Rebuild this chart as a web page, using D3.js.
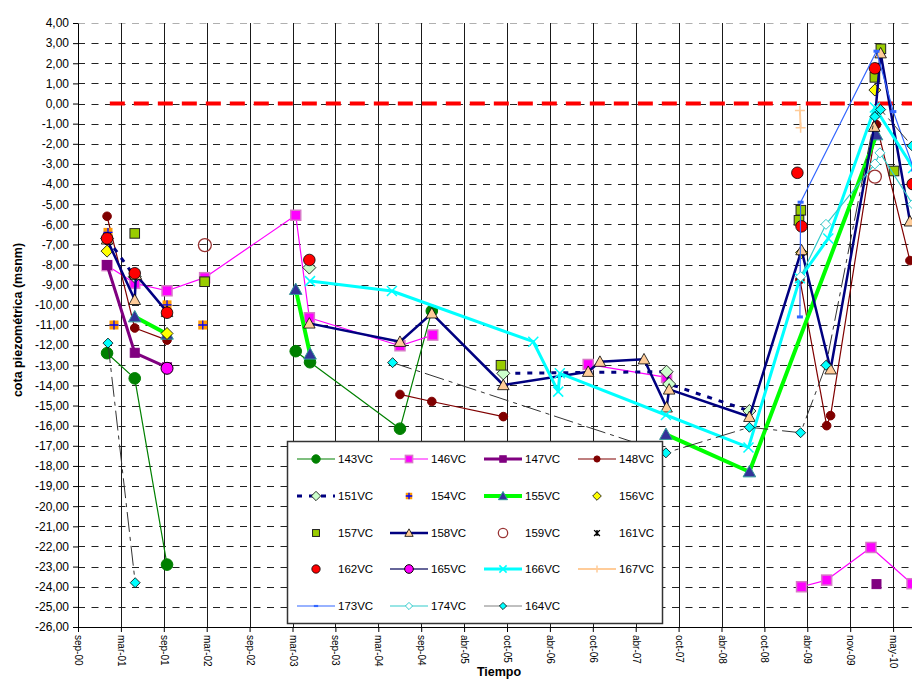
<!DOCTYPE html>
<html>
<head>
<meta charset="utf-8">
<script src="https://cdn.jsdelivr.net/npm/d3@7"></script>
<style>
  body { margin: 0; background: #fff; }
  svg { display: block; font-family: "Liberation Sans", Arial, sans-serif; }
</style>
</head>
<body>
<svg id="chart" width="912" height="680"></svg>
<script>
// ---- Axis definitions ----
const axisStartDate = "2000-09-01";
const majorUnitDays = 186;
const tickLabels = ["sep-00","mar-01","sep-01","mar-02","sep-02","mar-03","sep-03","mar-04","sep-04",
  "abr-05","oct-05","abr-06","oct-06","abr-07","oct-07","abr-08","oct-08","abr-09","nov-09","may-10"];
const yMin = -26, yMax = 4;

// ---- Piezometric levels per well: [date, cota (msnm)], null breaks the line ----
const s143 = [["2001-01-05",-12.4],["2001-05-05",-13.65],["2001-09-22",-22.9],null,
  ["2003-04-03",-12.3],["2003-06-04",-12.85],["2004-06-28",-16.15],["2004-11-13",-10.3]];
const s146 = [["2001-01-05",-8.05],["2001-05-05",-8.93],["2001-09-22",-9.3],["2002-03-04",-8.65],
  ["2003-04-03",-5.55],["2003-06-01",-10.64],["2004-06-28",-12.03],["2004-11-17",-11.5],null,
  ["2006-09-22",-12.96],["2007-08-28",-13.6],null,
  ["2009-04-04",-24.0],["2009-07-22",-23.67],["2010-01-30",-22.05],["2010-07-27",-23.85]];
const s147 = [["2001-01-05",-8.02],["2001-05-05",-12.38],["2001-09-22",-13.1],null,["2010-02-23",-23.87]];
const s148 = [["2001-01-05",-5.6],["2001-05-05",-11.15],["2001-09-22",-11.75],null,
  ["2004-06-28",-14.45],["2004-11-13",-14.8],["2005-09-19",-15.55],null,
  ["2009-03-28",-8.75],["2009-07-22",-16.0],["2009-08-08",-15.5],["2010-02-23",-1.05],["2010-07-18",-7.8]];
const s151 = [["2001-01-05",-6.7],["2001-05-05",-8.6],null,["2003-06-01",-8.15],null,
  ["2005-09-19",-13.4],["2007-08-28",-13.32],["2007-09-08",-13.93],["2008-08-21",-15.27]];
const s154 = [["2001-01-09",-6.4],["2001-02-04",-11.0],["2001-09-22",-10.0],["2002-02-24",-11.0]];
const s155 = [["2001-05-05",-10.59],["2001-09-22",-11.45],null,["2003-04-03",-9.23],["2003-06-04",-12.44],null,
  ["2007-08-25",-16.43],["2008-08-21",-18.29],["2010-02-23",-1.55]];
const s156 = [["2001-01-05",-7.33],["2001-09-22",-11.42],["2009-04-04",-7.4],["2010-02-16",0.67]];
const s157 = [["2001-05-05",-6.45],["2002-03-04",-8.85],["2005-09-09",-13.0],["2009-03-24",-5.8],
  ["2009-04-01",-5.3],["2010-02-16",1.3],["2010-03-14",2.72],["2010-05-10",-3.35]];
const s158 = [["2001-01-05",-6.75],["2001-05-05",-9.75],["2001-05-10",-8.5],["2001-09-22",-10.35],null,
  ["2003-06-01",-10.92],["2004-06-28",-11.83],["2004-11-13",-10.42],["2005-09-19",-13.98],
  ["2006-09-22",-13.32],["2006-11-12",-12.82],["2007-05-22",-12.7],["2007-08-28",-15.09],
  ["2007-09-08",-14.2],["2008-08-21",-15.56],["2009-04-04",-7.28],["2009-08-08",-13.2],
  ["2010-02-13",-1.15],["2010-03-13",2.5],["2010-07-18",-5.85]];
const s159 = [["2002-03-05",-7.03],["2010-02-16",-3.63]];
const s161 = [["2001-01-05",-6.65],["2001-04-27",-8.45]];
const s162 = [["2001-01-05",-6.7],["2001-05-05",-8.43],["2001-09-22",-10.39],["2003-06-01",-7.77],
  ["2009-03-17",-3.44],["2009-04-04",-6.1],["2010-02-16",1.75],["2010-07-30",-4.0]];
const s165 = [["2001-09-22",-13.15]];
const s166 = [["2003-06-04",-8.82],["2004-05-24",-9.31],["2006-01-27",-11.83],["2006-05-15",-14.31],
  ["2006-05-22",-13.4],["2007-08-25",-15.47],["2008-08-17",-17.08],["2009-03-28",-8.68],
  ["2009-07-29",-6.7],["2010-02-16",-0.2],["2010-08-01",-3.2]];
const s167 = [["2009-03-28",-0.35],["2009-03-31",-1.2]];
const s173 = [["2009-03-28",-10.6],["2009-03-31",-4.9],["2010-02-23",2.6],["2010-05-07",-0.4],["2010-08-05",-3.3]];
const s174 = [["2009-03-31",-8.6],["2009-07-19",-6.0],["2010-02-16",-3.0],["2010-03-10",-2.45],["2010-07-30",-5.0]];
const s164 = [["2001-01-09",-11.9],["2001-05-07",-23.8],null,["2004-05-27",-12.87],["2007-08-25",-17.35],
  ["2008-08-21",-16.08],["2009-03-31",-16.35],["2009-07-19",-13.0],["2010-02-16",-0.65],
  ["2010-03-13",-0.3],["2010-07-27",-2.1]];
// sea level reference
const seaLevel = [["2001-01-17",0],["2010-11-09",0]];

// ---- Series styling ----
const series = [
  {name:"143VC", data:s143, line:{c:"#008000", w:1.2}, m:{shape:"circle", s:5.8, fill:"#008000", stroke:"#008000", sw:1}},
  {name:"146VC", data:s146, line:{c:"#FF00FF", w:1.2}, m:{shape:"square", s:5, fill:"#FF00FF", stroke:"#D878C8", sw:1.5}},
  {name:"147VC", data:s147, line:{c:"#800080", w:3}, m:{shape:"square", s:4.5, fill:"#800080", stroke:"#800080", sw:1}},
  {name:"148VC", data:s148, line:{c:"#800000", w:1.2}, m:{shape:"circle", s:4.3, fill:"#800000", stroke:"#800000", sw:1}},
  {name:"151VC", data:s151, line:{c:"#000080", w:3, dash:"5,7"}, m:{shape:"diamond", s:6.5, fill:"#CCFFCC", stroke:"#000", sw:0.8}},
  {name:"154VC", data:s154, line:null, m:{shape:"sqplus", s:4.5, fill:"#FF9900", stroke:"#0000FF", sw:1.3}},
  {name:"155VC", data:s155, line:{c:"#00FF00", w:4}, m:{shape:"triangle", s:6, fill:"#333399", stroke:"#339999", sw:1}},
  {name:"156VC", data:s156, line:null, m:{shape:"diamond", s:6, fill:"#FFFF00", stroke:"#000", sw:0.8}},
  {name:"157VC", data:s157, line:null, m:{shape:"square", s:4.8, fill:"#99CC00", stroke:"#222", sw:1}},
  {name:"158VC", data:s158, line:{c:"#000080", w:2.5}, m:{shape:"triangle", s:5.5, fill:"#FFCC99", stroke:"#000", sw:0.8}},
  {name:"159VC", data:s159, line:null, m:{shape:"circle", s:6.5, fill:"none", stroke:"#993333", sw:1.3}},
  {name:"161VC", data:s161, line:null, m:{shape:"asterisk", s:4, fill:"none", stroke:"#000", sw:1.4}},
  {name:"162VC", data:s162, line:null, m:{shape:"circle", s:5.8, fill:"#FF0000", stroke:"#000", sw:0.8}},
  {name:"165VC", data:s165, line:{c:"#666699", w:2}, m:{shape:"circle", s:6, fill:"#FF00FF", stroke:"#000", sw:1}},
  {name:"166VC", data:s166, line:{c:"#00FFFF", w:3}, m:{shape:"cross", s:5, fill:"none", stroke:"#00FFFF", sw:1.5}},
  {name:"167VC", data:s167, line:{c:"#FFCC99", w:2}, m:{shape:"plus", s:5, fill:"none", stroke:"#FFCC99", sw:1.5}},
  {name:"173VC", data:s173, line:{c:"#3366FF", w:1.2}, m:{shape:"dash", s:3, fill:"#3366FF", stroke:"#3366FF", sw:0}},
  {name:"174VC", data:s174, line:{c:"#33CCCC", w:1.2}, m:{shape:"diamond", s:5, fill:"#fff", stroke:"#33CCCC", sw:1}},
  {name:"164VC", data:s164, line:{c:"#333333", w:1, dash:"20,5,4,5", legendColor:"#808080", legendDash:null}, m:{shape:"diamond", s:5, fill:"#00FFFF", stroke:"#000", sw:0.8}}
];

// ---- Scales ----
const svg = d3.select("#chart");
const parse = d3.utcParse("%Y-%m-%d");
const start = parse(axisStartDate);
const tickDates = tickLabels.map((_, i) => d3.utcDay.offset(start, majorUnitDays * i));
const end = d3.utcDay.offset(start, majorUnitDays * 20);
const plotL = 78, plotR = 936, plotT = 23, plotB = 627;
const x = d3.scaleUtc().domain([start, end]).range([plotL, plotR]);
const y = d3.scaleLinear().domain([yMin, yMax]).range([plotB, plotT]);
const yTicks = d3.range(yMin, yMax + 0.001, 1);
const crisp = v => Math.round(v) + 0.5;

svg.append("defs").append("clipPath").attr("id", "plotClip")
  .append("rect").attr("x", plotL).attr("y", 0).attr("width", plotR - plotL).attr("height", plotB);

// ---- Grid ----
const grid = svg.append("g");
grid.selectAll("line.h").data(yTicks.filter(v => v > yMin)).join("line")
  .attr("x1", plotL).attr("x2", plotR)
  .attr("y1", d => crisp(y(d))).attr("y2", d => crisp(y(d)))
  .attr("stroke", d => d === yMax ? "#b0b0b0" : "#222")
  .attr("stroke-width", 1).attr("stroke-dasharray", "7,6.5");
grid.selectAll("line.v").data(tickDates.slice(1)).join("line")
  .attr("x1", d => crisp(x(d))).attr("x2", d => crisp(x(d)))
  .attr("y1", plotT).attr("y2", plotB)
  .attr("stroke", "#1a1a1a").attr("stroke-width", 1);

// ---- Axes ----
const fmtY = v => (v < 0 ? "-" : "") + Math.abs(v).toFixed(2).replace(".", ",");
const yAxis = svg.append("g").attr("transform", `translate(${plotL},0)`)
  .call(d3.axisLeft(y).tickValues(yTicks).tickFormat(fmtY).tickSize(5).tickSizeOuter(0).tickPadding(4));
yAxis.selectAll("text").attr("font-size", 12).attr("fill", "#000").attr("font-family", "Liberation Sans, Arial, sans-serif");
yAxis.select(".domain").attr("stroke", "#000");
yAxis.selectAll(".tick line").attr("stroke", "#000");

const xAxis = svg.append("g").attr("transform", `translate(0,${plotB})`)
  .call(d3.axisBottom(x).tickValues(tickDates).tickFormat((d, i) => tickLabels[i]).tickSize(5).tickSizeOuter(0));
xAxis.select(".domain").attr("stroke", "#000");
xAxis.selectAll(".tick line").attr("stroke", "#000");
xAxis.selectAll("text")
  .attr("transform", "rotate(90)").attr("x", 8).attr("y", 0).attr("dy", "0.35em")
  .style("text-anchor", "start").attr("font-size", 10).attr("fill", "#000")
  .attr("font-family", "Liberation Sans, Arial, sans-serif");

svg.append("text").attr("transform", "translate(22,320) rotate(-90)")
  .attr("text-anchor", "middle").attr("font-size", 12.5).attr("font-weight", "bold")
  .text("cota piezométrica (msnm)");
svg.append("text").attr("x", 499).attr("y", 676)
  .attr("text-anchor", "middle").attr("font-size", 12.5).attr("font-weight", "bold")
  .text("Tiempo");

// ---- Marker drawing ----
function drawMarker(g, m, cx, cy, k) {
  const s = m.s * k;
  const sw = m.sw;
  switch (m.shape) {
    case "circle":
      g.append("circle").attr("cx", cx).attr("cy", cy).attr("r", s)
        .attr("fill", m.fill).attr("stroke", m.stroke).attr("stroke-width", sw); break;
    case "square":
      g.append("rect").attr("x", cx - s).attr("y", cy - s).attr("width", 2 * s).attr("height", 2 * s)
        .attr("fill", m.fill).attr("stroke", m.stroke).attr("stroke-width", sw); break;
    case "diamond":
      g.append("path").attr("d", `M${cx},${cy - s}L${cx + s},${cy}L${cx},${cy + s}L${cx - s},${cy}Z`)
        .attr("fill", m.fill).attr("stroke", m.stroke).attr("stroke-width", sw); break;
    case "triangle":
      g.append("path").attr("d", `M${cx},${cy - s * 1.05}L${cx + s * 1.05},${cy + s * 0.85}L${cx - s * 1.05},${cy + s * 0.85}Z`)
        .attr("fill", m.fill).attr("stroke", m.stroke).attr("stroke-width", sw); break;
    case "sqplus":
      g.append("rect").attr("x", cx - s).attr("y", cy - s).attr("width", 2 * s).attr("height", 2 * s)
        .attr("fill", m.fill);
      g.append("path").attr("d", `M${cx - s},${cy}H${cx + s}M${cx},${cy - s}V${cy + s}`)
        .attr("stroke", m.stroke).attr("stroke-width", sw).attr("fill", "none"); break;
    case "plus":
      g.append("path").attr("d", `M${cx - s},${cy}H${cx + s}M${cx},${cy - s}V${cy + s}`)
        .attr("stroke", m.stroke).attr("stroke-width", sw).attr("fill", "none"); break;
    case "cross":
      g.append("path").attr("d", `M${cx - s},${cy - s}L${cx + s},${cy + s}M${cx - s},${cy + s}L${cx + s},${cy - s}`)
        .attr("stroke", m.stroke).attr("stroke-width", sw).attr("fill", "none"); break;
    case "asterisk":
      g.append("path").attr("d", `M${cx - s},${cy - s}L${cx + s},${cy + s}M${cx - s},${cy + s}L${cx + s},${cy - s}M${cx},${cy - s}V${cy + s}`)
        .attr("stroke", m.stroke).attr("stroke-width", sw).attr("fill", "none"); break;
    case "dash":
      g.append("rect").attr("x", cx - s).attr("y", cy - s / 2).attr("width", 2 * s).attr("height", s)
        .attr("fill", m.fill); break;
  }
}

// ---- Plot ----
const plot = svg.append("g").attr("clip-path", "url(#plotClip)");
const line = d3.line().defined(d => d !== null).x(d => x(parse(d[0]))).y(d => y(d[1]));

plot.append("path").datum(seaLevel).attr("d", line)
  .attr("fill", "none").attr("stroke", "#FF0000").attr("stroke-width", 4).attr("stroke-dasharray", "15,9");

series.forEach(sr => {
  const g = plot.append("g");
  if (sr.line) {
    g.append("path").datum(sr.data).attr("d", line).attr("fill", "none")
      .attr("stroke", sr.line.c).attr("stroke-width", sr.line.w)
      .attr("stroke-dasharray", sr.line.dash || null).attr("stroke-linejoin", "round");
  }
  sr.data.filter(d => d !== null).forEach(d => drawMarker(g, sr.m, x(parse(d[0])), y(d[1]), 1));
});

// ---- Legend ----
const legend = svg.append("g");
legend.append("rect").attr("x", 287.5).attr("y", 441.5).attr("width", 375).attr("height", 182)
  .attr("fill", "#fff").attr("stroke", "#333").attr("stroke-width", 1.5);
const colX = [297, 390, 484, 578];
const rowY = [459, 496, 533, 569, 606];
series.forEach((sr, i) => {
  const cx0 = colX[i % 4], cy = rowY[Math.floor(i / 4)];
  const g = legend.append("g");
  if (sr.line) {
    g.append("line").attr("x1", cx0).attr("x2", cx0 + 38).attr("y1", cy).attr("y2", cy)
      .attr("stroke", sr.line.legendColor || sr.line.c).attr("stroke-width", sr.line.w)
      .attr("stroke-dasharray", sr.line.legendColor ? null : (sr.line.dash || null));
  }
  drawMarker(g, sr.m, cx0 + 19, cy, 0.72);
  g.append("text").attr("x", cx0 + 41).attr("y", cy + 4.2)
    .attr("font-size", 11.5).attr("fill", "#000").text(sr.name);
});
</script>
</body>
</html>
